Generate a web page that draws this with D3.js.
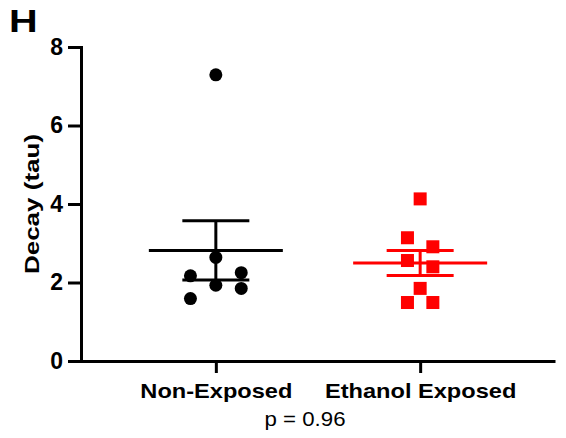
<!DOCTYPE html>
<html>
<head>
<meta charset="utf-8">
<script src="https://cdn.jsdelivr.net/npm/d3@7"></script>
<style>
    body { margin: 0; background: #fff; }
    svg { font-family: "Liberation Sans", Arial, sans-serif; }
</style>
</head>
<body>
<svg id="chart" width="566" height="438"></svg>
<script>
// groups on the x axis
var groups = ["Non-Exposed", "Ethanol Exposed"];
var groupColors = ["#000000", "#ff0000"];

// decay values, with the column (lane) each point sits in
var nonExposed = [7.29, 2.64, 2.17, 1.93, 2.25, 1.85, 1.59];
var nonExposedLane = [0, 0, -2, 0, 2, 2, -2];
var ethanolExposed = [4.13, 3.14, 2.91, 2.56, 2.40, 1.85, 1.49, 1.49];
var ethanolExposedLane = [0, -1, 1, -1, 1, 0, -1, 1];

var yTicks = [0, 2, 4, 6, 8];
var pText = "p = 0.96";

var svg = d3.select("#chart");
var plotLeft = 81, plotRight = 555, plotTop = 47, plotBottom = 361;

var xScale = d3.scalePoint()
    .domain(groups)
    .range([plotLeft, plotRight])
    .padding(0.66);

var yScale = d3.scaleLinear()
    .domain([0, 8])
    .range([plotBottom, plotTop]);

var laneScale = d3.scaleLinear()
    .domain([-1, 1])
    .range([-12.7, 12.7]);

// y axis
var yAxis = d3.axisLeft(yScale).tickValues(yTicks).tickSize(13).tickPadding(5);
var yG = svg.append("g")
    .attr("transform", "translate(" + plotLeft + ",0)")
    .call(yAxis);
yG.select(".domain").attr("stroke-width", 3);
yG.selectAll(".tick line").attr("stroke-width", 3);
yG.selectAll(".tick text")
    .attr("font-size", 23)
    .attr("font-weight", "bold")
    .attr("fill", "#000");

// x axis
var xAxis = d3.axisBottom(xScale).tickSize(12).tickSizeOuter(0);
var xG = svg.append("g")
    .attr("transform", "translate(0," + plotBottom + ")")
    .call(xAxis);
xG.select(".domain").attr("stroke-width", 3);
xG.selectAll(".tick line").attr("stroke-width", 3);
xG.selectAll(".tick text")
    .attr("y", 37)
    .attr("dy", 0)
    .attr("font-size", 20)
    .attr("font-weight", "bold")
    .attr("fill", "#000")
    .attr("transform", "scale(1.18,1)");

var series = [
    {name: groups[0], values: nonExposed, lanes: nonExposedLane, color: groupColors[0], shape: "circle"},
    {name: groups[1], values: ethanolExposed, lanes: ethanolExposedLane, color: groupColors[1], shape: "square"}
];

series.forEach(function (s) {
    var cx = xScale(s.name);
    var mean = d3.mean(s.values);
    var sem = d3.deviation(s.values) / Math.sqrt(s.values.length);
    var g = svg.append("g");

    var pts = s.values.map(function (v, i) {
        return {v: v, lane: s.lanes[i]};
    });

    if (s.shape === "circle") {
        g.selectAll("circle")
            .data(pts)
            .enter()
            .append("circle")
            .attr("cx", function (d) { return cx + laneScale(d.lane); })
            .attr("cy", function (d) { return yScale(d.v); })
            .attr("r", 6.5)
            .attr("fill", s.color);
    } else {
        g.selectAll("rect")
            .data(pts)
            .enter()
            .append("rect")
            .attr("x", function (d) { return cx + laneScale(d.lane) - 6.5; })
            .attr("y", function (d) { return yScale(d.v) - 6.5; })
            .attr("width", 13)
            .attr("height", 13)
            .attr("fill", s.color);
    }

    // mean and SEM
    g.append("line")
        .attr("x1", cx - 67).attr("x2", cx + 67)
        .attr("y1", yScale(mean)).attr("y2", yScale(mean))
        .attr("stroke", s.color).attr("stroke-width", 3);
    g.append("line")
        .attr("x1", cx).attr("x2", cx)
        .attr("y1", yScale(mean + sem)).attr("y2", yScale(mean - sem))
        .attr("stroke", s.color).attr("stroke-width", 3);
    [mean + sem, mean - sem].forEach(function (v) {
        g.append("line")
            .attr("x1", cx - 33.5).attr("x2", cx + 33.5)
            .attr("y1", yScale(v)).attr("y2", yScale(v))
            .attr("stroke", s.color).attr("stroke-width", 3);
    });
});

// y label
svg.append("text")
    .attr("transform", "translate(39," + ((plotTop + plotBottom) / 2) + ") rotate(-90) scale(1.3,1)")
    .attr("text-anchor", "middle")
    .attr("font-size", 20)
    .attr("font-weight", "bold")
    .text("Decay (tau)");

// p value
svg.append("text")
    .attr("transform", "translate(305,426) scale(1.06,1)")
    .attr("text-anchor", "middle")
    .attr("font-size", 21)
    .text(pText);

// panel letter
svg.append("text")
    .attr("transform", "translate(9,32) scale(1.24,1)")
    .attr("font-size", 32)
    .attr("font-weight", "bold")
    .text("H");
</script>
</body>
</html>
